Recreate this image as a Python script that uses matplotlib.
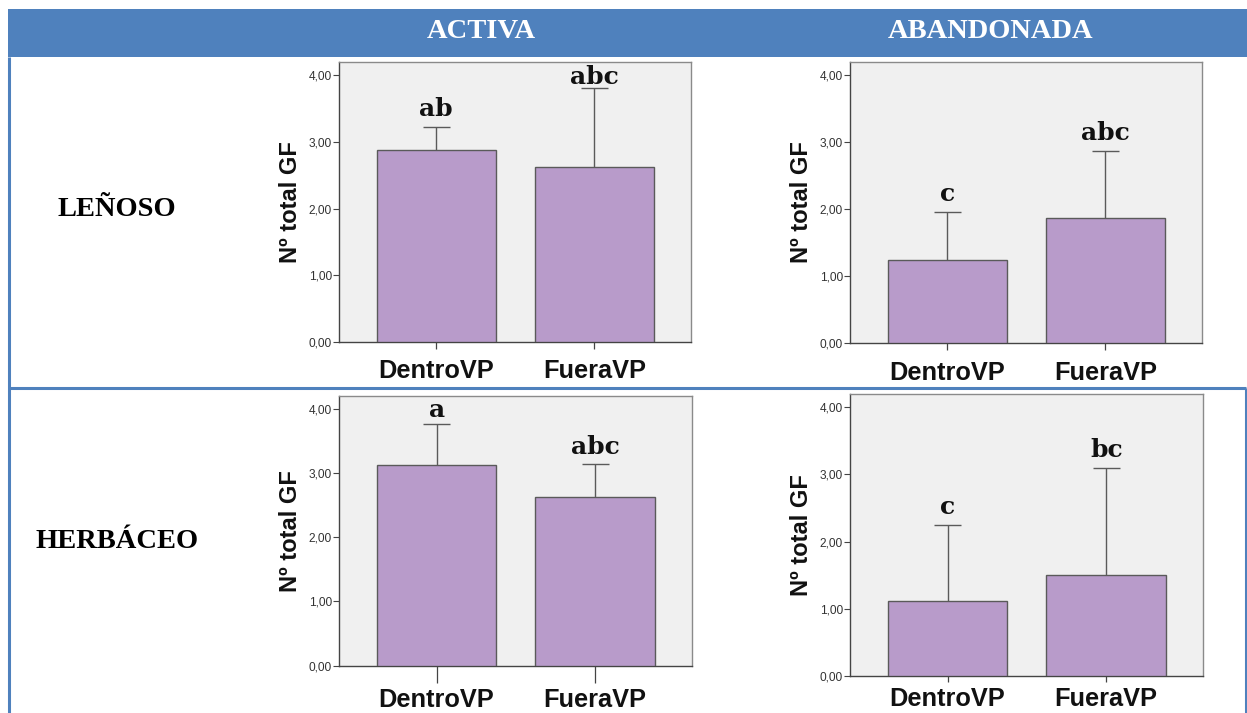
import matplotlib
matplotlib.use("Agg")
import matplotlib.pyplot as plt
from matplotlib.patches import Rectangle
from matplotlib.ticker import FuncFormatter

# ---------------- data ----------------
categories = ["DentroVP", "FueraVP"]
column_titles = ["ACTIVA", "ABANDONADA"]
row_titles = ["LEÑOSO", "HERBÁCEO"]
ylabel_text = "Nº total GF"
y_ticks = [0, 1, 2, 3, 4]

activa_lenoso_mean = [2.88, 2.62]
activa_lenoso_upper = [3.23, 3.81]
activa_lenoso_letters = ["ab", "abc"]

abandonada_lenoso_mean = [1.24, 1.87]
abandonada_lenoso_upper = [1.96, 2.87]
abandonada_lenoso_letters = ["c", "abc"]

activa_herb_mean = [3.13, 2.62]
activa_herb_upper = [3.76, 3.14]
activa_herb_letters = ["a", "abc"]

abandonada_herb_mean = [1.12, 1.50]
abandonada_herb_upper = [2.25, 3.10]
abandonada_herb_letters = ["c", "bc"]

# ---------------- style ----------------
W, H = 1247, 713
BLUE = "#4F81BD"
BAR = "#B89BCA"
EDGE = "#5a5a5a"
PANEL_BG = "#F0F0F0"

fig = plt.figure(figsize=(W / 100, H / 100), dpi=100)
fig.patch.set_facecolor("white")

# background table drawn in pixel coordinates
bg = fig.add_axes([0, 0, 1, 1], zorder=-5)
bg.set_xlim(0, W)
bg.set_ylim(H, 0)
bg.axis("off")
bg.add_patch(Rectangle((8, 9), W - 8, 48, facecolor=BLUE, edgecolor="none"))
bg.plot([8.5, 8.5], [57, H], color=BLUE, lw=2.2, solid_capstyle="butt")
bg.plot([8, 1246], [388, 388], color=BLUE, lw=2.2, solid_capstyle="butt")
bg.plot([1245.5, 1245.5], [388, H], color=BLUE, lw=2.2, solid_capstyle="butt")

header_x = [481, 991]
for t, x in zip(column_titles, header_x):
    bg.text(x, 31.5, t, color="white", fontsize=20.5, fontweight="bold",
            family="Liberation Serif", ha="center", va="center")
row_y = [209, 542]
for t, y in zip(row_titles, row_y):
    bg.text(117, y, t, color="black", fontsize=20.5, fontweight="bold",
            family="Liberation Serif", ha="center", va="center")

# panels: (left, top, right, bottom) in pixels
panels = [
    ((339, 62, 691, 342), activa_lenoso_mean, activa_lenoso_upper, activa_lenoso_letters, 5, 7),
    ((850, 62, 1202, 343), abandonada_lenoso_mean, abandonada_lenoso_upper, abandonada_lenoso_letters, 5, 8),
    ((339, 396, 692, 665.7), activa_herb_mean, activa_herb_upper, activa_herb_letters, 12, 4),
    ((850, 394, 1203, 675.7), abandonada_herb_mean, abandonada_herb_upper, abandonada_herb_letters, 4, 4),
]

xpos = [0, 1]
for (l, t, r, b), means, uppers, letters, xtl, xpad in panels:
    ax = fig.add_axes([l / W, 1 - b / H, (r - l) / W, (b - t) / H])
    ax.set_facecolor(PANEL_BG)
    ax.bar(xpos, means, width=0.753, color=BAR, edgecolor=EDGE, linewidth=1.0, zorder=3)
    ax.vlines(xpos, means, uppers, color=EDGE, lw=1.0, zorder=2)
    ax.hlines(uppers, [x - 0.085 for x in xpos], [x + 0.085 for x in xpos],
              color=EDGE, lw=1.0, zorder=2)
    for x, u, lab in zip(xpos, uppers, letters):
        ax.text(x, min(u + 0.16, 3.87), lab, ha="center", va="baseline",
                family="DejaVu Serif", fontweight="bold", fontsize=18,
                color="#111111", zorder=5)
    ax.set_xlim(-0.615, 1.61)
    ax.set_ylim(0, 4.2)
    ax.set_yticks(y_ticks)
    ax.yaxis.set_major_formatter(FuncFormatter(lambda v, p: f"{v:.2f}".replace(".", ",")))
    ax.set_xticks(xpos)
    ax.set_xticklabels(categories, fontsize=18.3, fontweight="bold",
                       family="Liberation Sans", color="#111111")
    ax.tick_params(axis="y", length=4, width=0.8, color="#444444", pad=1,
                   labelsize=8.6, labelcolor="#333333")
    for lab in ax.get_yticklabels():
        lab.set_family("Liberation Sans")
    ax.tick_params(axis="x", length=xtl, width=0.9, color="#444444", pad=xpad)
    for side in ["top", "right"]:
        ax.spines[side].set_color("#8a8a8a")
        ax.spines[side].set_linewidth(1.0)
    for side in ["left", "bottom"]:
        ax.spines[side].set_color("#444444")
        ax.spines[side].set_linewidth(1.0)
    ax.set_ylabel(ylabel_text, fontsize=17, fontweight="bold",
                  family="Liberation Sans", color="#111111")
    ax.yaxis.set_label_coords(-0.105, 0.5)

fig.savefig("out.png", dpi=100, facecolor="white")
